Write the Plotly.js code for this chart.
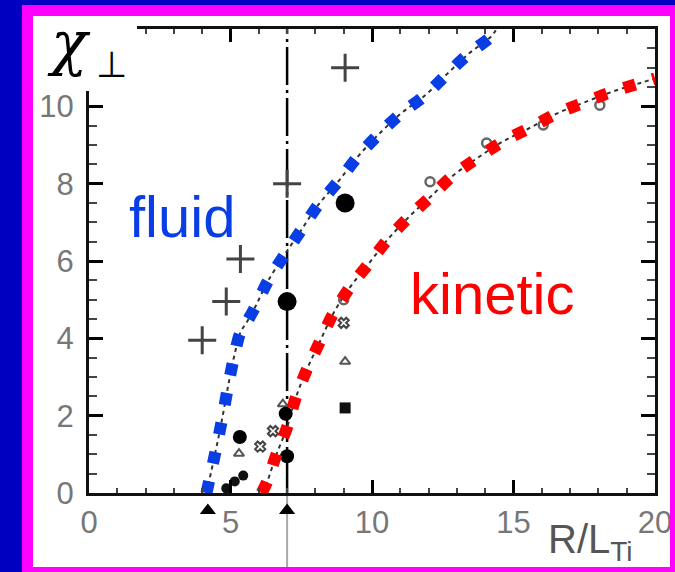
<!DOCTYPE html>
<html>
<head>
<meta charset="utf-8">
<script src="https://cdn.plot.ly/plotly-3.0.1.min.js"></script>
<style>
html,body{margin:0;padding:0;background:#ffffff;}
#wrap{position:relative;width:675px;height:572px;}
#chart,#axes{position:absolute;left:0;top:0;width:675px;height:572px;}
#axes{pointer-events:none;}
</style>
</head>
<body>
<div id="wrap"><div id="chart"></div><div id="axes"></div></div>
<script>
// ---- data ----
const xTickVals = [0, 5, 10, 15, 20];
const thresholdX = 7;

// fluid fit curve (blue)
const fluidX = [4.15, 4.45, 4.7, 4.95, 5.15, 5.35, 5.6, 5.9, 6.3, 6.9, 7.5, 8.1, 8.8, 9.5, 10.2, 11.0, 11.9, 12.6, 13.4, 14.2, 14.4];
const fluidY = [0.0, 1.0, 1.9, 2.9, 3.6, 4.15, 4.45, 4.85, 5.45, 6.15, 6.8, 7.45, 8.05, 8.7, 9.25, 9.8, 10.3, 10.8, 11.35, 11.8, 12.0];

// kinetic fit curve (red)
const kineticX = [6.1, 6.3, 6.6, 7.0, 7.3, 7.7, 8.15, 8.6, 9.2, 9.85, 10.55, 11.25, 12.05, 12.85, 13.7, 14.6, 15.6, 16.55, 17.5, 18.5, 19.55, 20.0];
const kineticY = [0.0, 0.3, 0.95, 1.7, 2.45, 3.2, 3.9, 4.6, 5.3, 5.9, 6.55, 7.1, 7.65, 8.2, 8.65, 9.08, 9.45, 9.82, 10.1, 10.38, 10.62, 10.72];

// simulation points
const plusX = [4.0, 4.85, 5.35, 7.0, 9.05];
const plusY = [3.95, 4.95, 6.05, 8.0, 11.0];
const bigDotX = [7.0, 9.05];
const bigDotY = [4.95, 7.5];
const dotX = [5.33, 7.0, 6.95];
const dotY = [1.45, 0.95, 2.05];
const smallDotX = [4.85, 5.15, 5.45];
const smallDotY = [0.12, 0.3, 0.45];
const triX = [5.3, 9.05, 6.85];
const triY = [1.02, 3.4, 2.3];
const crossX = [6.05, 6.5, 9.0];
const crossY = [1.2, 1.6, 4.4];
const ringX = [9.0, 12.05, 14.05, 16.05, 18.05];
const ringY = [5.0, 8.05, 9.05, 9.52, 10.03];
const squareX = [9.05];
const squareY = [2.2];
const onsetX = [4.2, 7.0];
const onsetY = [-0.45, -0.45];

// ---- geometry: plot area 89..655 px wide, 29..567 px tall; main y axis spans 29..493 px ----
const L = 89, T = 29, W = 566, HALL = 538, HY = 464;
const px = v => (v - L) / W;
const py = v => (T + HALL - v) / HALL;
const yLow = 12 - 12 * HALL / HY;
const yDomain = [(HALL - HY) / HALL, 1];
const margin = {l: L, r: 675 - L - W, t: T, b: 572 - T - HALL, pad: 0};

const traces = [
  {x: fluidX, y: fluidY, mode: 'lines', line: {shape: 'spline', color: '#333', width: 2, dash: '4px,4px'}},
  {x: kineticX, y: kineticY, mode: 'lines', line: {shape: 'spline', color: '#333', width: 2, dash: '4px,4px'}},
  {x: plusX, y: plusY, mode: 'markers', marker: {symbol: 'cross-thin-open', size: 20, color: '#444', line: {width: 3, color: '#444'}}},
  {x: triX, y: triY, mode: 'markers', marker: {symbol: 'triangle-up-open', size: 9, color: '#555', line: {width: 2, color: '#555'}}},
  {x: crossX, y: crossY, mode: 'markers', marker: {symbol: 'x-open', size: 9, color: '#444', line: {width: 2, color: '#444'}}},
  {x: ringX, y: ringY, mode: 'markers', marker: {symbol: 'circle-open', size: 9, color: '#666', line: {width: 2.5, color: '#666'}}},
  {x: squareX, y: squareY, mode: 'markers', marker: {symbol: 'square', size: 11, color: '#111'}},
  {x: smallDotX, y: smallDotY, mode: 'markers', marker: {symbol: 'circle', size: 10, color: '#111'}},
  {x: dotX, y: dotY, mode: 'markers', marker: {symbol: 'circle', size: 14, color: '#000'}},
  {x: bigDotX, y: bigDotY, mode: 'markers', marker: {symbol: 'circle', size: 19, color: '#000'}},
  {x: fluidX, y: fluidY, mode: 'lines', line: {shape: 'spline', color: 'rgb(8,62,228)', width: 12, dash: '12px,18px'}},
  {x: kineticX, y: kineticY, mode: 'lines', line: {shape: 'spline', color: 'rgb(255,0,0)', width: 12, dash: '12px,18px'}},
  {x: onsetX, y: onsetY, mode: 'markers', marker: {symbol: 'triangle-up', size: 14, color: '#000'}, xaxis: 'x2', yaxis: 'y2'}
];

const tickFont = {family: 'Liberation Sans, Arial, sans-serif', size: 31, color: '#777'};
const BLUE_BG = '#0000c0', MAGENTA = '#ff00ff';

function frameRect(x0, y0, x1, y1, color) {
  return {type: 'rect', xref: 'paper', yref: 'paper', layer: 'above', x0: px(x0), x1: px(x1), y0: py(y1), y1: py(y0), fillcolor: color, line: {width: 0}};
}

// main chart: data, tick labels, frame and texts
const layout = {
  width: 675, height: 572, margin: margin,
  paper_bgcolor: '#fff',
  plot_bgcolor: 'rgba(0,0,0,0)',
  showlegend: false,
  xaxis: {
    range: [0, 20], anchor: 'y', tickmode: 'array', tickvals: xTickVals, ticks: 'inside', ticklen: 13, tickwidth: 3, tickcolor: '#000',
    showline: true, linewidth: 3, linecolor: '#111', mirror: 'ticks', showgrid: false, zeroline: false, tickfont: tickFont
  },
  yaxis: {
    domain: yDomain, range: [0, 12], tickmode: 'linear', tick0: 0, dtick: 2, ticks: 'inside', ticklen: 14, tickwidth: 3, tickcolor: '#000',
    showline: true, linewidth: 3, linecolor: '#111', mirror: 'ticks', showgrid: false, zeroline: false, tickfont: tickFont, ticklabelstandoff: 6
  },
  xaxis2: {range: [0, 20], anchor: 'y2', visible: false},
  yaxis2: {domain: [0, 1], range: [yLow, 12], anchor: 'x2', visible: false},
  shapes: [
    {type: 'line', xref: 'x', yref: 'paper', layer: 'below', x0: thresholdX, x1: thresholdX, y0: py(493), y1: 1, line: {color: '#000', width: 2.5, dash: '38px,5px,3px,5px'}},
    {type: 'line', xref: 'x', yref: 'paper', layer: 'below', x0: thresholdX, x1: thresholdX, y0: 0, y1: py(493), line: {color: '#aaa', width: 2}},
    frameRect(0, 0, 22, 572, BLUE_BG),
    frameRect(0, 0, 675, 5, BLUE_BG),
    frameRect(22, 5, 33, 572, MAGENTA),
    frameRect(22, 5, 675, 16, MAGENTA),
    frameRect(670, 5, 675, 572, MAGENTA),
    frameRect(22, 567, 675, 572, MAGENTA)
  ],
  annotations: [
    {xref: 'x', yref: 'y', x: 3.29, y: 7.14, xanchor: 'center', yanchor: 'middle', showarrow: false,
     text: 'fluid', font: {family: 'Liberation Sans, Arial, sans-serif', size: 58, color: 'rgb(8,62,228)'}},
    {xref: 'x', yref: 'y', x: 14.24, y: 5.17, xanchor: 'center', yanchor: 'middle', showarrow: false,
     text: 'kinetic', font: {family: 'Liberation Sans, Arial, sans-serif', size: 58, color: 'rgb(255,0,0)'}},
    {xref: 'paper', yref: 'paper', x: px(546), y: py(515), xanchor: 'left', yanchor: 'top', showarrow: false,
     text: 'R/L<sub>Ti</sub>', font: {family: 'Liberation Sans, Arial, sans-serif', size: 40, color: '#555'}}
  ]
};

Plotly.newPlot('chart', traces, layout, {displayModeBar: false});

// overlay: the same axes again, drawing the inside major/minor ticks on all four sides
const axesLayout = {
  width: 675, height: 572, margin: margin,
  paper_bgcolor: 'rgba(0,0,0,0)',
  plot_bgcolor: 'rgba(0,0,0,0)',
  showlegend: false,
  xaxis: {
    range: [0, 20], anchor: 'y', tickmode: 'array', tickvals: xTickVals, ticks: 'inside', ticklen: 13, tickwidth: 3, tickcolor: '#000',
    showline: true, linewidth: 3, linecolor: '#111', mirror: 'ticks', showgrid: false, zeroline: false, showticklabels: false,
    minor: {dtick: 1, tick0: 0, ticks: 'inside', ticklen: 5, tickwidth: 2, tickcolor: '#444', showgrid: false}
  },
  yaxis: {
    domain: yDomain, range: [0, 12], tickmode: 'linear', tick0: 0, dtick: 2, ticks: 'inside', ticklen: 14, tickwidth: 3, tickcolor: '#000',
    showline: true, linewidth: 3, linecolor: '#111', mirror: 'ticks', showgrid: false, zeroline: false, showticklabels: false,
    minor: {dtick: 0.5, tick0: 0, ticks: 'inside', ticklen: 8, tickwidth: 2, tickcolor: '#444', showgrid: false}
  },
  shapes: [frameRect(33, 16, 137, 91, '#ffffff')],
  annotations: [
    {xref: 'paper', yref: 'paper', x: px(93), y: py(43), xanchor: 'right', yanchor: 'middle', showarrow: false,
     text: 'χ', font: {family: 'DejaVu Serif, serif', size: 60, style: 'italic', color: '#000'}},
    {xref: 'paper', yref: 'paper', x: px(94), y: py(64), xanchor: 'left', yanchor: 'middle', showarrow: false,
     text: '⊥', font: {family: 'DejaVu Sans, sans-serif', size: 36, color: '#000'}}
  ]
};

Plotly.newPlot('axes', [{x: [], y: [], mode: 'markers', hoverinfo: 'skip'}], axesLayout, {displayModeBar: false, staticPlot: true});
</script>
</body>
</html>
